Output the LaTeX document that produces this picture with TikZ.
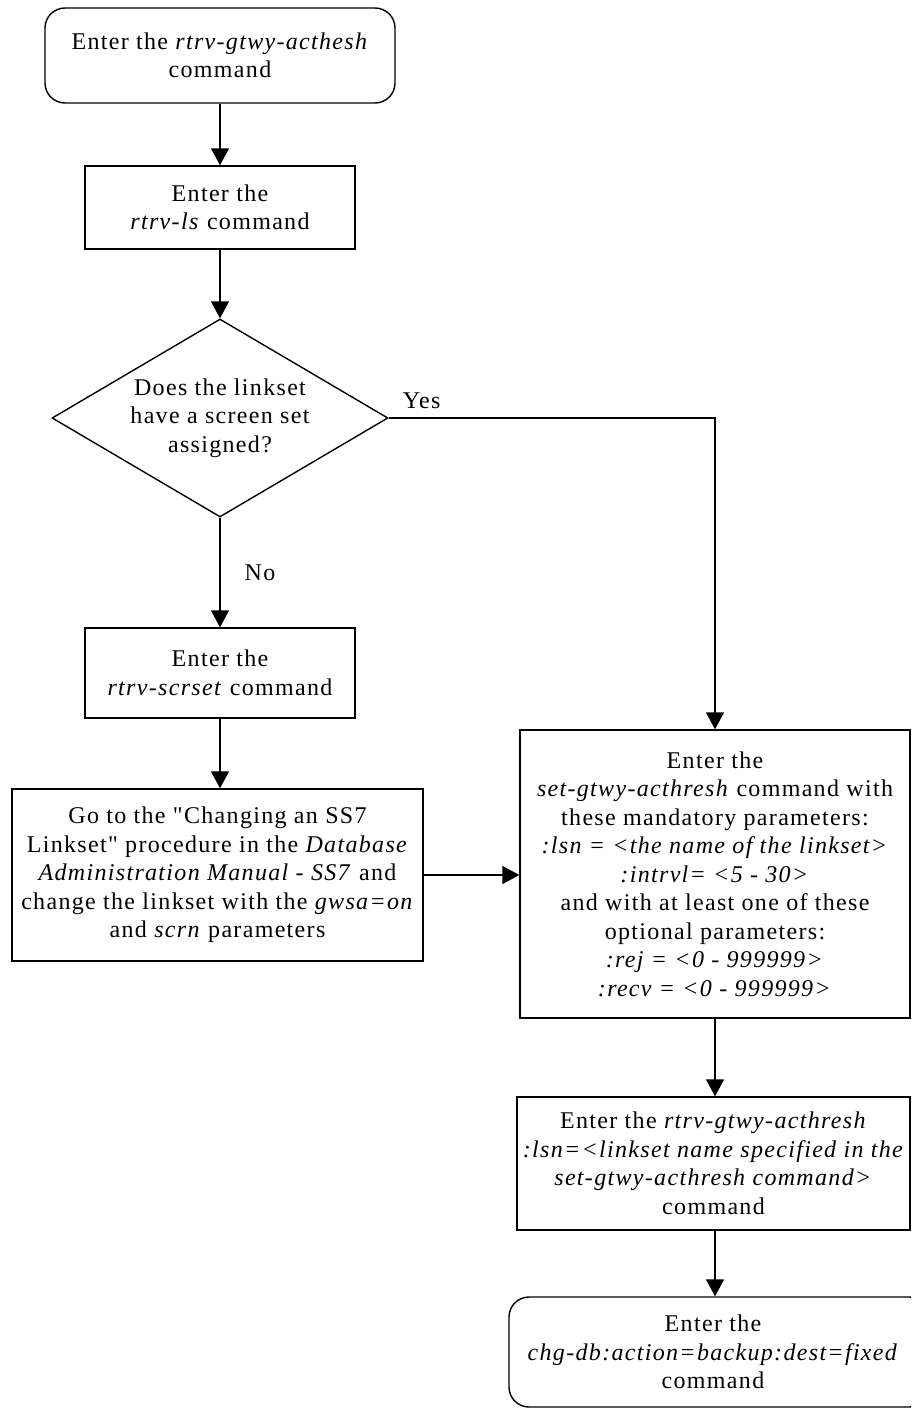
\documentclass[tikz,border=0pt]{standalone}
\usepackage{fontspec}
\setmainfont[LetterSpace=5.5, Ligatures=TeXOff]{Liberation Serif}
\usetikzlibrary{arrows.meta,shapes.geometric}
\tikzset{
  txt/.style={font=\fontsize{24}{28.5}\selectfont, align=center, inner sep=0pt},
  procbox/.style={txt, draw, line width=1.4pt},
  termbox/.style={txt, draw, line width=1.4pt, rounded corners=20pt},
  decbox/.style={draw, line width=1.4pt, diamond, inner sep=0pt},
  flow/.style={line width=1.4pt, -{Triangle[length=17pt,width=18pt]}},
  lbl/.style={font=\fontsize{24}{28.5}\selectfont, inner sep=0pt}
}
\begin{document}
\begin{tikzpicture}[x=1pt,y=-1pt]
\clip (0,0) rectangle (911,1410);
\fill[white] (0,0) rectangle (911,1410);

\node[termbox, minimum width=350, minimum height=95] (start) at (220,55.5)
  {Enter the \textit{rtrv-gtwy-acthesh}\\command};
\node[procbox, minimum width=270, minimum height=83] (rtrvls) at (220,207.5)
  {Enter the\\\textit{rtrv-ls} command};
\node[decbox, minimum width=336, minimum height=198] (dec) at (220,418) {};
\node[txt] (dectext) at (220,418)
  {Does the linkset\\have a screen set\\assigned?};
\node[procbox, minimum width=270, minimum height=90] (scrset) at (220,673)
  {Enter the\\\textit{rtrv-scrset} command};
\node[procbox, minimum width=411, minimum height=172] (goto) at (217.5,875)
  {Go to the "Changing an SS7\\Linkset" procedure in the \textit{Database}\\\textit{Administration Manual - SS7} and\\change the linkset with the \textit{gwsa=on}\\and \textit{scrn} parameters};
\node[procbox, minimum width=390, minimum height=288] (setg) at (715,874)
  {Enter the\\\textit{set-gtwy-acthresh} command with\\these mandatory parameters:\\\textit{:lsn = <the name of the linkset>}\\\textit{:intrvl= <5 - 30>}\\and with at least one of these\\optional parameters:\\\textit{:rej = <0 - 999999>}\\\textit{:recv = <0 - 999999>}};
\node[procbox, minimum width=393, minimum height=133] (rtrvg) at (713.5,1163.5)
  {Enter the \textit{rtrv-gtwy-acthresh}\\\textit{:lsn=<linkset name specified in the}\\\textit{set-gtwy-acthresh command>}\\command};
\node[termbox, minimum width=420, minimum height=110] (chgdb) at (719,1352)
  {};
\node[txt] (chgdbtext) at (713,1352)
  {Enter the\\\textit{chg-db:action=backup:dest=fixed}\\command};

\coordinate (yescorner) at (715,418);
\draw[flow] (start) -- (rtrvls);
\draw[flow] (rtrvls) -- (dec.north);
\draw[flow] (dec.south) -- node[lbl, right=24pt, pos=0.5] (no) {No} (scrset);
\draw[flow] (dec.east) -- (yescorner) -- (setg.north);
\node[lbl, anchor=base west] (yes) at ([xshift=14pt,yshift=10pt]dec.east) {Yes};
\draw[flow] (scrset) -- (scrset |- goto.north);
\draw[flow] (goto.east) -- (goto.east -| setg.west);
\draw[flow] (setg.south) -- (setg.south |- rtrvg.north);
\draw[flow] (setg.south |- rtrvg.south) -- (setg.south |- chgdb.north);
\end{tikzpicture}
\end{document}
